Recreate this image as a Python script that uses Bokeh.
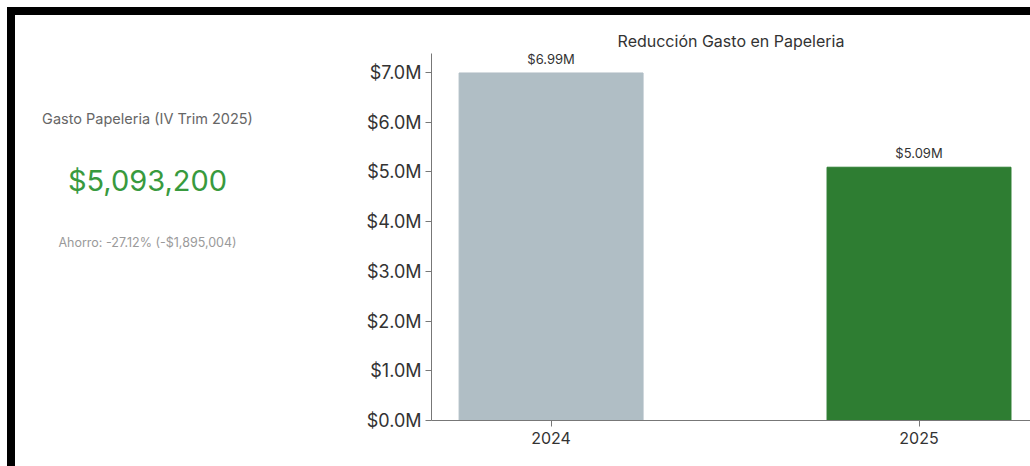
from bokeh.plotting import figure
from bokeh.models import ColumnDataSource, Range1d, FixedTicker, Label, LabelSet, Div
from bokeh.layouts import column, row
from bokeh.core.properties import value
from bokeh.embed import file_html
from bokeh.resources import INLINE

# ---- data ----
years = ["2024", "2025"]
values = [6988204, 5093200]
bar_colors = ["#b0bec5", "#2e7d32"]
value_labels = ["$6.99M", "$5.09M"]
y_tick_values = [0, 1e6, 2e6, 3e6, 4e6, 5e6, 6e6, 7e6]
y_tick_labels = ["$0.0M", "$1.0M", "$2.0M", "$3.0M", "$4.0M", "$5.0M", "$6.0M", "$7.0M"]
chart_title = "Reducción Gasto en Papeleria"
kpi_title = "Gasto Papeleria (IV Trim 2025)"
kpi_value = "$5,093,200"
kpi_note = "Ahorro: -27.12% (-$1,895,004)"

FONT = "Inter"

# ---- KPI panel (left) ----
# its frame is aligned with the bar chart frame (page y 53..420), ranges in page pixels
kp = figure(width=340, height=451, output_backend="svg", toolbar_location=None,
            x_range=Range1d(15, 355), y_range=Range1d(420, 53),
            min_border=0, background_fill_color="white", border_fill_color="white")
kp.axis.visible = False
kp.grid.visible = False
kp.outline_line_color = None
kp.add_layout(Label(x=147, y=118, text=kpi_title, text_align="center", text_baseline="middle",
                    text_font=FONT, text_font_size="14.5px", text_color="#666666"))
kp.add_layout(Label(x=147, y=180, text=kpi_value, text_align="center", text_baseline="middle",
                    text_font=FONT, text_font_size="29px", text_color="#389a3e"))
kp.add_layout(Label(x=147, y=242, text=kpi_note, text_align="center", text_baseline="middle",
                    text_font=FONT, text_font_size="12.5px", text_color="#9a9a9a"))

# ---- bar chart ----
xs = list(range(len(years)))
src = ColumnDataSource(dict(x=xs, top=values, color=bar_colors, label=value_labels))

p = figure(width=675, height=451, output_backend="svg", toolbar_location=None,
           x_range=Range1d(-0.325, 1.303), y_range=Range1d(0, 7.38e6),
           title=chart_title,
           min_border_left=76, min_border_right=0, min_border_top=38, min_border_bottom=46,
           background_fill_color="white", border_fill_color="white")
p.outline_line_color = None
p.xgrid.visible = False
p.ygrid.visible = False
p.title.align = "center"
p.title.text_font = FONT
p.title.text_font_size = "16px"
p.title.text_font_style = "normal"
p.title.text_color = "#333333"
p.title.standoff = 5
p.title.offset = 8

p.vbar(x="x", top="top", width=0.5, color="color", source=src)

p.add_layout(LabelSet(x="x", y="top", text="label", source=src, y_offset=6,
                      text_align="center", text_baseline="bottom",
                      text_font=value(FONT), text_font_size=value("13px"), text_color="#333333"))

# axes
p.yaxis.ticker = FixedTicker(ticks=y_tick_values)
p.yaxis.major_label_overrides = {v: l for v, l in zip(y_tick_values, y_tick_labels)}
p.xaxis.ticker = FixedTicker(ticks=xs)
p.xaxis.major_label_overrides = {i: y for i, y in zip(xs, years)}
for ax in (p.xaxis, p.yaxis):
    ax.axis_line_color = "#777777"
    ax.major_tick_line_color = "#777777"
    ax.major_tick_out = 6
    ax.major_tick_in = 0
    ax.minor_tick_line_color = None
    ax.major_label_text_font = FONT
    ax.major_label_text_color = "#333333"
p.yaxis.major_label_text_font_size = "18px"
p.xaxis.major_label_text_font_size = "16px"
p.yaxis.major_label_standoff = 4
p.xaxis.major_label_standoff = 5

# black frame bands of the screenshot
top_bar = Div(width=1023, height=8, margin=0, styles={"background-color": "black"})
left_bar = Div(width=8, height=451, margin=0, styles={"background-color": "black"})
pad_left = Div(width=7, height=466, margin=0)
pad_top = Div(width=1023, height=7, margin=0)

layout = row(pad_left, column(pad_top, top_bar, row(left_bar, kp, p)))

open("out.html", "w").write(file_html(layout, INLINE))
